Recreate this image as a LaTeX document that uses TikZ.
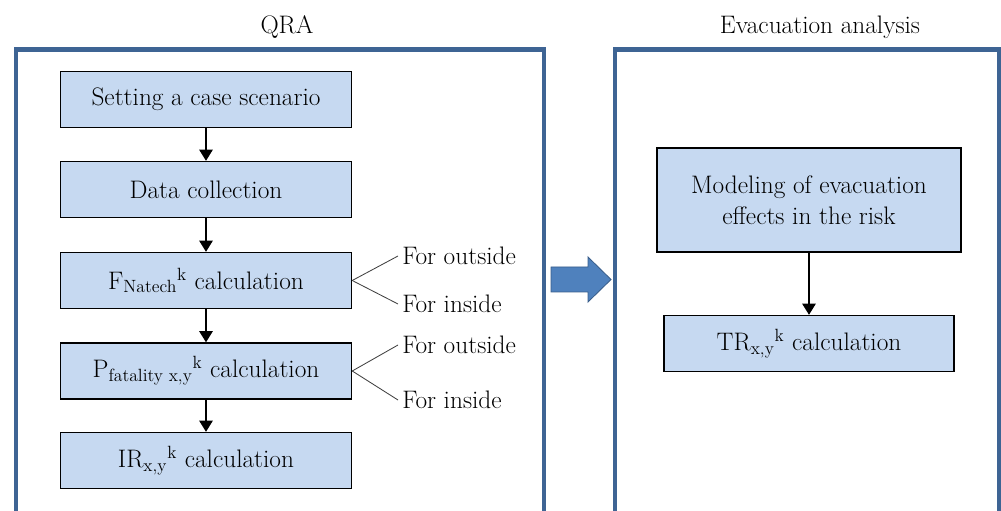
\documentclass[tikz,border=0pt]{standalone}
\usepackage{tikz}
\usetikzlibrary{arrows.meta}
\definecolor{stagefill}{RGB}{198,217,241}
\definecolor{framecol}{RGB}{62,100,148}
\definecolor{bigfill}{RGB}{79,129,189}
\definecolor{bigdraw}{RGB}{56,93,138}
\pgfdeclarelayer{edgelayer}
\pgfdeclarelayer{nodelayer}
\pgfsetlayers{edgelayer,nodelayer,main}
\tikzstyle{none}=[inner sep=0pt]
\tikzstyle{head}=[inner sep=0pt,font=\fontsize{18}{22}\selectfont]
\tikzstyle{stage}=[rectangle,fill=stagefill,draw=black,line width=1pt,minimum width=7.275cm,minimum height=1.4cm,align=center,font=\fontsize{18}{22}\selectfont]
\tikzstyle{side}=[anchor=west,inner sep=0.1cm,font=\fontsize{18}{22}\selectfont]
\tikzstyle{frame}=[-,draw=framecol,line width=0.12cm]
\tikzstyle{flow}=[-{Triangle[length=0.28cm,width=0.34cm]},draw=black,line width=0.9pt]
\tikzstyle{branch}=[-,draw=black!75,line width=0.6pt]
\tikzstyle{bigarrow}=[fill=bigfill,draw=bigdraw,line width=0.6pt]

\begin{document}
\begin{tikzpicture}[x=0.025cm,y=-0.025cm]
	\useasboundingbox (0,0) rectangle (1001,511);
	\begin{pgfonlayer}{nodelayer}
		\node [style=head] (0) at (287, 27) {QRA};
		\node [style=head] (1) at (820, 27) {Evacuation analysis};
		\node [style=stage] (2) at (206, 99.5) {Setting a case scenario};
		\node [style=stage] (3) at (206, 189.5) {Data collection};
		\node [style=stage] (4) at (206, 280.5) {F\textsubscript{Natech}\textsuperscript{k} calculation};
		\node [style=stage] (5) at (206, 371) {P\textsubscript{fatality x,y}\textsuperscript{k} calculation};
		\node [style=stage] (6) at (206, 460.5) {IR\textsubscript{x,y}\textsuperscript{k} calculation};
		\node [style=stage, minimum width=7.6cm, minimum height=2.6cm] (7) at (809, 200) {Modeling of evacuation\\effects in the risk};
		\node [style=stage, minimum width=7.25cm] (8) at (809, 343.5) {TR\textsubscript{x,y}\textsuperscript{k} calculation};
		\node [style=side] (9) at (398, 256) {For outside};
		\node [style=side] (10) at (398, 304) {For inside};
		\node [style=side] (11) at (398, 345) {For outside};
		\node [style=side] (12) at (398, 400) {For inside};
		\node [style=none] (13) at (16, 516) {};
		\node [style=none] (14) at (16, 49.5) {};
		\node [style=none] (15) at (544, 49.5) {};
		\node [style=none] (16) at (544, 516) {};
		\node [style=none] (17) at (615, 516) {};
		\node [style=none] (18) at (615, 49.5) {};
		\node [style=none] (19) at (999, 49.5) {};
		\node [style=none] (20) at (999, 516) {};
	\end{pgfonlayer}
	\begin{pgfonlayer}{edgelayer}
		\draw [style=frame] (13.center) to (14.center) to (15.center) to (16.center);
		\draw [style=frame] (17.center) to (18.center) to (19.center) to (20.center);
		\draw [style=flow] (2) to (3);
		\draw [style=flow] (3) to (4);
		\draw [style=flow] (4) to (5);
		\draw [style=flow] (5) to (6);
		\draw [style=flow] (7) to (8);
		\draw [style=branch] (4.east) to (9.west);
		\draw [style=branch] (4.east) to (10.west);
		\draw [style=branch] (5.east) to (11.west);
		\draw [style=branch] (5.east) to (12.west);
	\end{pgfonlayer}
	\draw [style=bigarrow] (551, 267) -- (588, 267) -- (588, 257) -- (611, 279.5) -- (588, 302) -- (588, 292) -- (551, 292) -- cycle;
\end{tikzpicture}
\end{document}
